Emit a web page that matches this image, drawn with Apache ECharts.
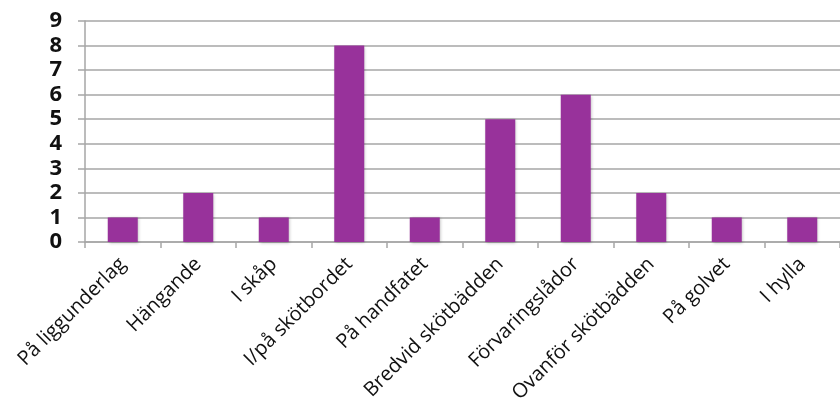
<!DOCTYPE html>
<html><head><meta charset="utf-8">
<script src="https://cdn.jsdelivr.net/npm/echarts@6/dist/echarts.min.js"></script>
<style>html,body{margin:0;padding:0;background:#fff}#c{width:840px;height:417px}</style>
</head><body><div id="c"></div>
<script>
const categories = ["På liggunderlag","Hängande","I skåp","I/på skötbordet","På handfatet","Bredvid skötbädden","Förvaringslådor","Ovanför skötbädden","På golvet","I hylla"];
const values = [1,2,1,8,1,5,6,2,1,1];
const yTicks = [0,1,2,3,4,5,6,7,8,9];
const chart = echarts.init(document.getElementById('c'));
chart.setOption({
  animation:false,
  grid:{left:85,right:-5,top:21,bottom:175,containLabel:false},
  xAxis:{type:'category',data:categories,
    axisLine:{lineStyle:{color:'#a6a6a6',width:1.5}},
    axisTick:{show:true,alignWithLabel:false,length:6,lineStyle:{color:'#a6a6a6',width:1.5}},
    axisLabel:{rotate:45,interval:0,margin:19,fontFamily:'Open Sans',fontSize:20,color:'#111'}},
  yAxis:{type:'value',min:0,max:9,interval:1,
    axisLine:{show:true,lineStyle:{color:'#a6a6a6',width:1.5}},
    axisTick:{show:true,length:7,lineStyle:{color:'#a6a6a6',width:1.5}},
    splitLine:{lineStyle:{color:'#a6a6a6',width:1.5}},
    axisLabel:{fontFamily:'Open Sans',fontWeight:'bold',fontSize:22,color:'#111',margin:23,
      formatter:v=>yTicks.includes(v)?String(v):''}},
  series:[{type:'bar',data:values,barWidth:30,
    itemStyle:{color:'#98329b',shadowColor:'rgba(0,0,0,0.25)',shadowBlur:3,shadowOffsetX:1,shadowOffsetY:1}}]
});
</script></body></html>
